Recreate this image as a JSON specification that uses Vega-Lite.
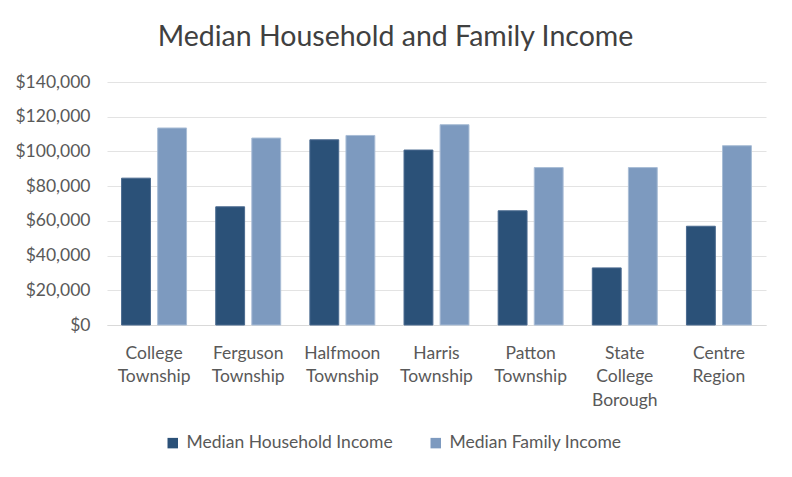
{
  "$schema": "https://vega.github.io/schema/vega-lite/v6.json",
  "width": 659,
  "height": 243,
  "autosize": "none",
  "padding": {"left": 107, "top": 82, "right": 26, "bottom": 152},
  "background": "white",
  "title": {
    "text": "Median Household and Family Income",
    "font": "Lato",
    "fontSize": 28.5,
    "fontWeight": "normal",
    "color": "#404040",
    "anchor": "middle",
    "dx": -41,
    "offset": 22
  },
  "data": {
    "values": [
      {"region": "College Township", "series": "Median Household Income", "income": 84600},
      {"region": "College Township", "series": "Median Family Income", "income": 113500},
      {"region": "Ferguson Township", "series": "Median Household Income", "income": 68100},
      {"region": "Ferguson Township", "series": "Median Family Income", "income": 107700},
      {"region": "Halfmoon Township", "series": "Median Household Income", "income": 106700},
      {"region": "Halfmoon Township", "series": "Median Family Income", "income": 109200},
      {"region": "Harris Township", "series": "Median Household Income", "income": 100800},
      {"region": "Harris Township", "series": "Median Family Income", "income": 115400},
      {"region": "Patton Township", "series": "Median Household Income", "income": 65800},
      {"region": "Patton Township", "series": "Median Family Income", "income": 90700},
      {"region": "State College Borough", "series": "Median Household Income", "income": 32900},
      {"region": "State College Borough", "series": "Median Family Income", "income": 90700},
      {"region": "Centre Region", "series": "Median Household Income", "income": 56900},
      {"region": "Centre Region", "series": "Median Family Income", "income": 103300}
    ]
  },
  "mark": {"type": "bar", "strokeWidth": 1},
  "encoding": {
    "x": {
      "field": "region",
      "type": "nominal",
      "sort": null,
      "title": null,
      "scale": {"paddingInner": 0.31, "paddingOuter": 0.155},
      "axis": {
        "labelAngle": 0,
        "labelExpr": "split(datum.label, ' ')",
        "labelFont": "Lato",
        "labelFontSize": 17.5,
        "labelColor": "#595959",
        "labelLineHeight": 23.5,
        "labelPadding": 19,
        "labelBaseline": "top",
        "ticks": false,
        "domainColor": "#d9d9d9",
        "domainWidth": 1,
        "grid": false
      }
    },
    "xOffset": {
      "field": "series",
      "type": "nominal",
      "sort": ["Median Household Income", "Median Family Income"],
      "scale": {"paddingInner": 0.2, "paddingOuter": 0}
    },
    "y": {
      "field": "income",
      "type": "quantitative",
      "title": null,
      "scale": {"domain": [0, 140000]},
      "axis": {
        "values": [0, 20000, 40000, 60000, 80000, 100000, 120000, 140000],
        "format": "$,.0f",
        "labelFont": "Lato",
        "labelFontSize": 17.5,
        "labelColor": "#595959",
        "labelPadding": 17,
        "ticks": false,
        "domain": false,
        "gridColor": "#e3e3e3",
        "gridWidth": 1
      }
    },
    "color": {
      "field": "series",
      "type": "nominal",
      "sort": ["Median Household Income", "Median Family Income"],
      "scale": {
        "domain": ["Median Household Income", "Median Family Income"],
        "range": ["#2b5178", "#7d9abf"]
      },
      "legend": {
        "title": null,
        "orient": "none",
        "direction": "horizontal",
        "legendX": 57,
        "legendY": 352,
        "symbolType": "square",
        "symbolSize": 110,
        "symbolStrokeWidth": 0,
        "labelFont": "Lato",
        "labelFontSize": 17.5,
        "labelColor": "#595959",
        "labelOffset": 5,
        "labelLimit": 0,
        "columnPadding": 34
      }
    },
    "stroke": {
      "field": "series",
      "type": "nominal",
      "scale": {
        "domain": ["Median Household Income", "Median Family Income"],
        "range": ["#4a6a8f", "#a9bdd6"]
      },
      "legend": null
    }
  },
  "config": {"view": {"stroke": null}}
}
